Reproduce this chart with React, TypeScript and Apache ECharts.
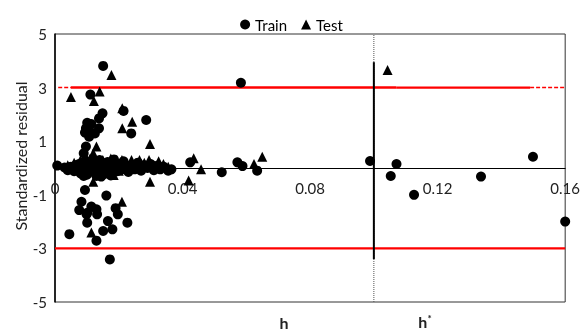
import React, { useEffect, useRef } from "react";
import * as echarts from "echarts";

const xTicks = [0, 0.04, 0.08, 0.12, 0.16];
const yTicks = [-5, -3, -1, 1, 3, 5];
const hStar = 0.1;
const limitUpper = 3;
const limitLower = -3;

const trainPoints: number[][] = [
  [0.0151, 3.81], [0.0111, 2.74], [0.0215, 2.13], [0.0286, 1.79], [0.0239, 1.29],
  [0.0583, 3.18], [0.0572, 0.21], [0.0424, 0.21], [0.0588, 0.07], [0.0523, -0.16], [0.0634, -0.1],
  [0.0149, 2.04], [0.0138, 1.85], [0.0101, 1.69], [0.0114, 1.64], [0.0097, 1.48], [0.0094, 1.32],
  [0.0107, 1.17], [0.0125, 1.29], [0.0138, 1.48], [0.0109, 1.36], [0.0097, 0.8], [0.009, 0.55],
  [0.0007, 0.09], [0.003, 0.02], [0.004, -0.08], [0.005, 0.05], [0.006, -0.12], [0.0065, 0.1],
  [0.007, -0.02], [0.0075, 0.15], [0.008, -0.2], [0.0085, 0.05], [0.009, -0.1], [0.0095, 0.2],
  [0.01, -0.25], [0.0105, 0.08], [0.011, -0.05], [0.0115, 0.25], [0.012, -0.15], [0.0125, 0.12],
  [0.013, -0.3], [0.0135, 0.02], [0.014, 0.3], [0.0145, -0.1], [0.015, 0.18], [0.0155, -0.22],
  [0.016, 0.05], [0.0165, 0.22], [0.017, -0.08], [0.0175, 0.1], [0.018, -0.18], [0.0185, 0.32],
  [0.019, 0.0], [0.0195, -0.12], [0.02, 0.15], [0.021, -0.05], [0.0215, 0.25], [0.022, 0.05],
  [0.023, -0.15], [0.024, 0.12], [0.025, -0.05], [0.026, 0.2], [0.027, -0.1], [0.028, 0.1],
  [0.029, 0.0], [0.03, 0.15], [0.031, -0.08], [0.032, 0.08], [0.033, -0.05], [0.034, 0.05],
  [0.0355, -0.1], [0.0365, -0.05], [0.009, -0.3], [0.0145, -0.32], [0.0175, -0.28],
  [0.0988, 0.26], [0.1071, 0.15], [0.1053, -0.3], [0.1126, -1.0], [0.1336, -0.32],
  [0.1499, 0.42], [0.16, -2.0],
  [0.0045, -2.47], [0.0094, -0.82], [0.0083, -1.26], [0.0076, -1.57], [0.0101, -1.67],
  [0.0114, -1.44], [0.013, -1.54], [0.0101, -2.04], [0.0132, -1.73], [0.013, -2.71],
  [0.0151, -2.35], [0.0166, -1.98], [0.018, -2.29], [0.0161, -1.03], [0.019, -1.5],
  [0.0197, -1.73], [0.0227, -2.04], [0.0172, -3.41], [0.0099, -1.73],
];

const testPoints: number[][] = [
  [0.0177, 3.47], [0.005, 2.65], [0.0122, 2.5], [0.014, 2.85], [0.0211, 2.23], [0.0242, 1.73],
  [0.0211, 1.48], [0.0298, 0.9], [0.013, 0.8], [0.0435, 0.36], [0.065, 0.42], [0.0624, 0.15],
  [0.1043, 3.66], [0.0114, -2.41], [0.021, -1.26],
  [0.004, 0.1], [0.006, 0.2], [0.008, 0.3], [0.01, 0.05], [0.011, 0.35], [0.0125, 0.2],
  [0.014, -0.05], [0.015, 0.3], [0.016, 0.15], [0.0175, 0.35], [0.019, 0.2], [0.02, -0.1],
  [0.021, 0.3], [0.0225, 0.15], [0.024, 0.3], [0.025, 0.05], [0.0265, 0.3], [0.028, 0.2],
  [0.0295, 0.3], [0.031, 0.1], [0.0325, 0.25], [0.034, 0.15], [0.0355, 0.05], [0.012, 0.55],
  [0.0095, 0.45], [0.012, -0.51], [0.0184, -0.26], [0.0298, -0.51], [0.0419, -0.47], [0.0458, -0.05],
];

const FONT = "Lato";

export default function App() {
  const ref = useRef<HTMLDivElement>(null);
  useEffect(() => {
    if (!ref.current) return;
    const chart = echarts.init(ref.current, null, { renderer: "svg" });
    const lineBase = { type: "line", symbol: "none", silent: true, z: 1, animation: false };
    chart.setOption({
      animation: false,
      textStyle: { fontFamily: FONT },
      legend: {
        data: [
          { name: "Train", icon: "circle" },
          { name: "Test", icon: "triangle" },
        ],
        top: 12,
        left: "center",
        itemWidth: 10,
        itemHeight: 10,
        itemGap: 14,
        textStyle: { fontSize: 15, color: "#000", fontFamily: FONT },
      },
      grid: {
        left: 55,
        right: 15,
        top: 34,
        bottom: 29,
        show: true,
        borderColor: "#333",
        borderWidth: 1,
      },
      xAxis: {
        type: "value",
        min: xTicks[0],
        max: xTicks[xTicks.length - 1],
        interval: 0.04,
        offset: -134,
        splitLine: { show: false },
        axisTick: { show: false },
        axisLine: { onZero: false, lineStyle: { color: "#000", width: 1 } },
        axisLabel: {
          fontSize: 15,
          color: "#222",
          margin: 12,
          fontFamily: FONT,
          formatter: (v: number) => (xTicks.some((t) => Math.abs(t - v) < 1e-9) ? String(+v.toFixed(2)) : ""),
        },
      },
      yAxis: {
        type: "value",
        min: yTicks[0],
        max: yTicks[yTicks.length - 1],
        interval: 2,
        splitLine: { show: false },
        axisTick: { show: false },
        axisLine: { onZero: false, lineStyle: { color: "#000", width: 1.5 } },
        axisLabel: { fontSize: 15, color: "#222", margin: 8, fontFamily: FONT },
      },
      graphic: [
        {
          type: "text",
          x: 20,
          y: 156,
          rotation: Math.PI / 2,
          style: {
            text: "Standardized residual",
            fontSize: 16,
            fontFamily: FONT,
            fill: "#222",
            align: "center",
            verticalAlign: "middle",
          },
        },
        {
          type: "text",
          x: 284,
          y: 322,
          style: { text: "h", fontSize: 16, fontWeight: "bold", fontFamily: FONT, fill: "#222", align: "center", verticalAlign: "middle" },
        },
        {
          type: "text",
          x: 425,
          y: 321,
          style: {
            text: "{b|h}{s|*}",
            fontFamily: FONT,
            fill: "#222",
            align: "center",
            verticalAlign: "middle",
            rich: {
              b: { fontSize: 16, fontWeight: "bold", fontFamily: FONT, fill: "#222", verticalAlign: "bottom", lineHeight: 17 },
              s: { fontSize: 10, fontWeight: "bold", fontFamily: FONT, fill: "#222", verticalAlign: "top", lineHeight: 17 },
            },
          },
        },
      ],
      series: [
        { ...lineBase, name: "lim-up-a", data: [[0.001, limitUpper], [0.005, limitUpper]], lineStyle: { color: "#ff0000", width: 1.5, type: [4, 2] } },
        { ...lineBase, name: "lim-up-b", data: [[0.005, limitUpper], [0.107, limitUpper]], lineStyle: { color: "#ff0000", width: 2.5 } },
        { ...lineBase, name: "lim-up-c", data: [[0.107, limitUpper], [0.149, limitUpper]], lineStyle: { color: "#ff0000", width: 2.2 } },
        { ...lineBase, name: "lim-up-d", data: [[0.149, limitUpper], [0.16, limitUpper]], lineStyle: { color: "#ff0000", width: 1.5, type: [4, 2] } },
        { ...lineBase, name: "lim-low", data: [[0, limitLower], [0.16, limitLower]], lineStyle: { color: "#ff0000", width: 2.2 } },
        { ...lineBase, name: "hstar-dot", data: [[hStar, -5], [hStar, 5]], lineStyle: { color: "#555", width: 1, type: [1, 1] } },
        { ...lineBase, name: "hstar", data: [[hStar, -3.4], [hStar, 3.95]], lineStyle: { color: "#000", width: 2 } },
        {
          name: "Train",
          type: "scatter",
          symbol: "circle",
          symbolSize: 10,
          itemStyle: { color: "#000", opacity: 1 },
          data: trainPoints,
          z: 3,
        },
        {
          name: "Test",
          type: "scatter",
          symbol: "triangle",
          symbolSize: 10,
          itemStyle: { color: "#000", opacity: 1 },
          data: testPoints,
          z: 3,
        },
      ],
    });
    return () => chart.dispose();
  }, []);
  return <div ref={ref} style={{ position: "fixed", left: 0, top: 0, width: 583, height: 331 }} />;
}
